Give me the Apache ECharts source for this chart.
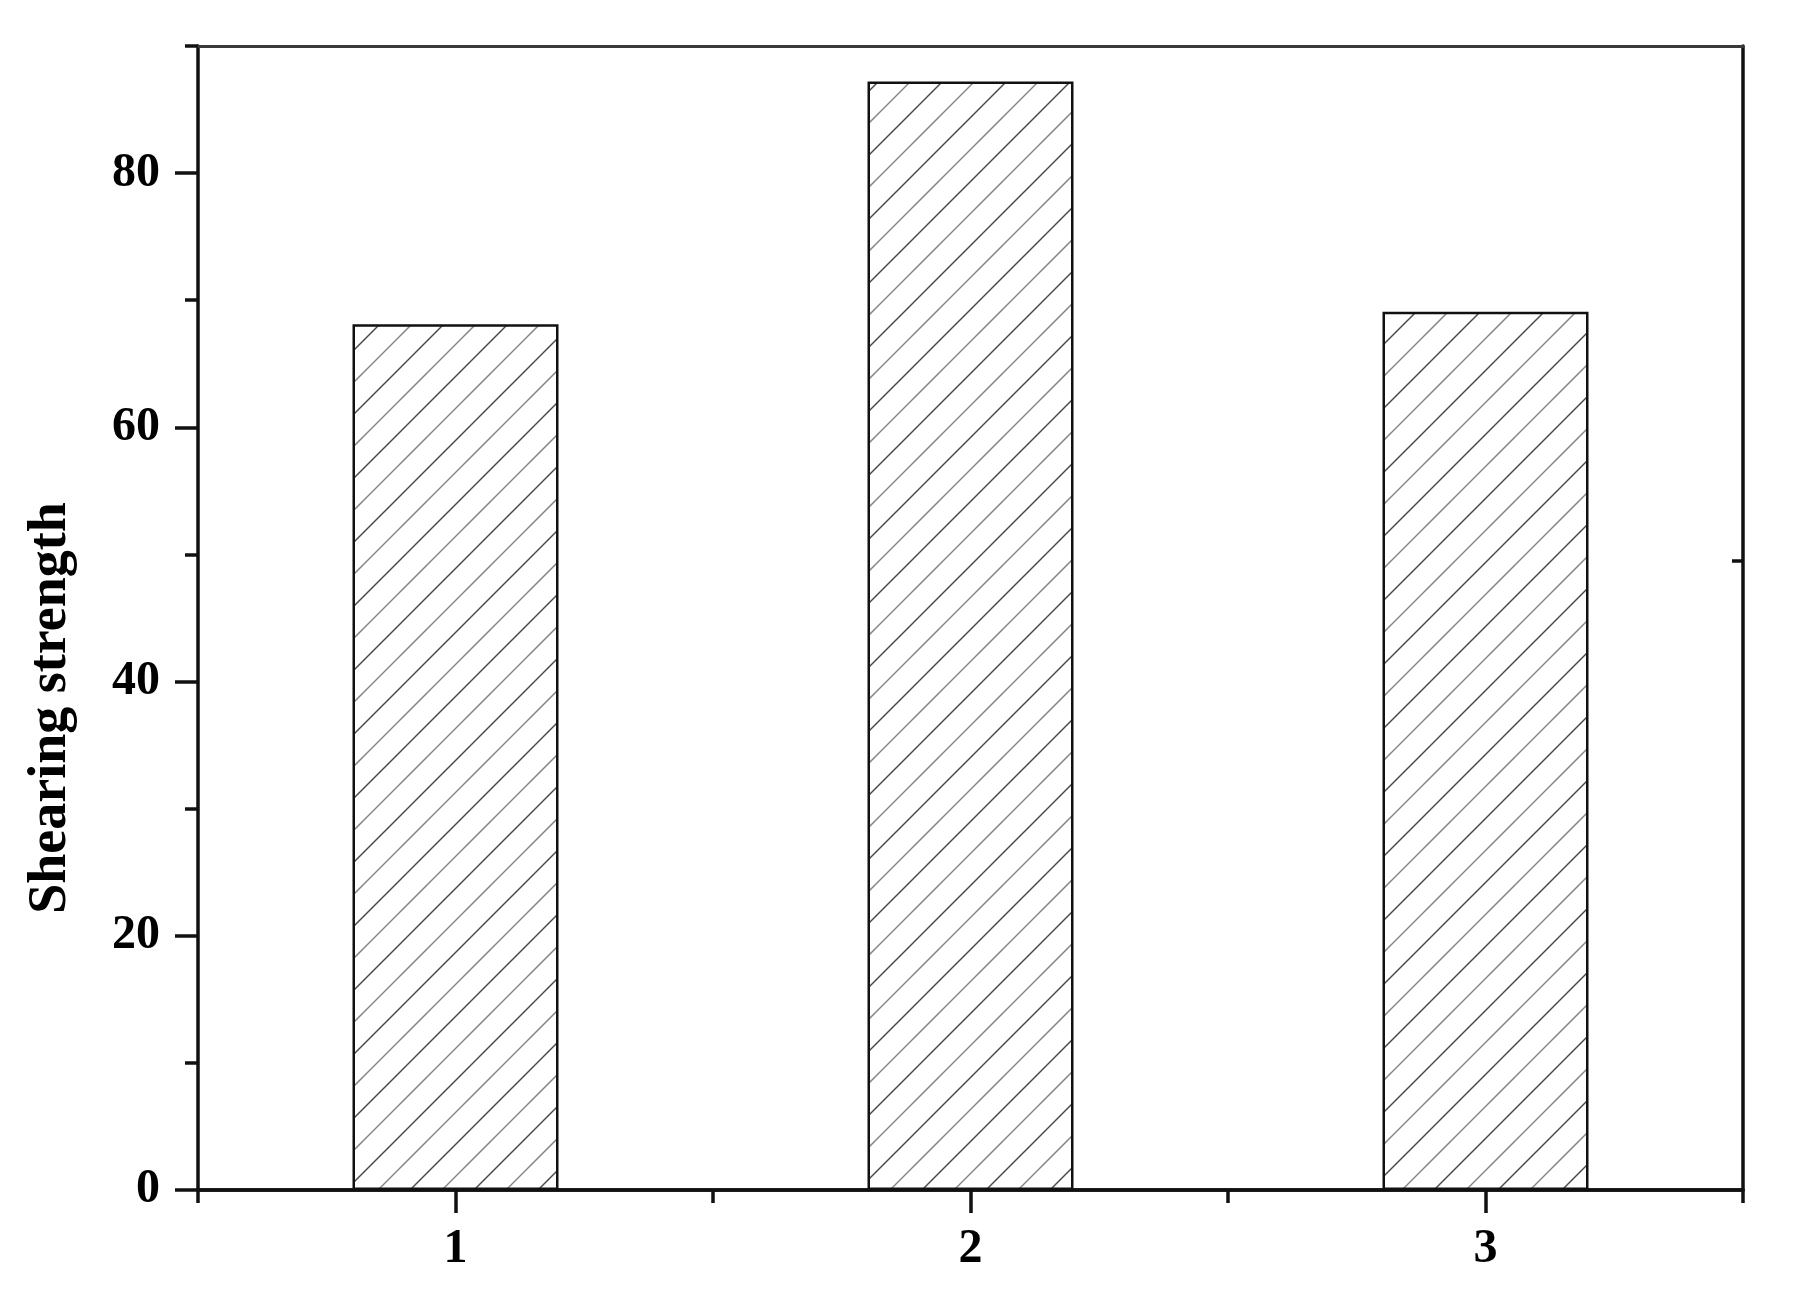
<!DOCTYPE html>
<html>
<head>
<meta charset="utf-8">
<title>Shearing strength</title>
<script src="https://cdn.jsdelivr.net/npm/echarts@6/dist/echarts.min.js"></script>
<style>
  html, body { margin: 0; padding: 0; background: #fff; }
  #chart { width: 1798px; height: 1290px; }
</style>
</head>
<body>
<div id="chart"></div>
<script>
// data
var categories = ['1', '2', '3']
var strength = [68.1, 87.2, 69.1]
var yMajorTicks = [0, 20, 40, 60, 80]
var yMinorTicks = [10, 30, 50, 70, 90]
var rightTicks = [49.5]

// diagonal hatch for the bars
function hatch() {
  var c = document.createElement('canvas')
  c.width = 64
  c.height = 64
  var ctx = c.getContext('2d')
  ctx.lineWidth = 1.5
  var lines = [[0, '#4a4a4a'], [32, '#858585']]
  lines.forEach(function (l) {
    ctx.strokeStyle = l[1]
    for (var k = -1; k <= 1; k++) {
      var off = l[0] + k * 64
      ctx.beginPath()
      ctx.moveTo(off - 2, 66)
      ctx.lineTo(off + 66, -2)
      ctx.stroke()
    }
  })
  return c
}

var font = 'Liberation Serif'
var axisColor = '#111111'
var lineW = 3.5

var chart = echarts.init(document.getElementById('chart'), null, { renderer: 'canvas' })
chart.setOption({
  backgroundColor: '#ffffff',
  animation: false,
  grid: {
    left: 198,
    right: 55,
    top: 46,
    bottom: 100
  },
  xAxis: [{
    type: 'category',
    data: categories,
    position: 'bottom',
    axisLine: {
      show: true,
      onZero: false,
      lineStyle: { color: axisColor, width: lineW }
    },
    axisTick: {
      show: true,
      alignWithLabel: true,
      length: 23,
      lineStyle: { color: axisColor, width: lineW }
    },
    axisLabel: {
      margin: 36,
      color: '#000',
      fontFamily: font,
      fontWeight: 'bold',
      fontSize: 48
    },
    splitLine: { show: false }
  }, {
    // boundary ticks at 0.5, 1.5, 2.5, 3.5
    type: 'category',
    data: categories,
    position: 'bottom',
    axisLine: {
      show: true,
      onZero: false,
      lineStyle: { color: axisColor, width: lineW }
    },
    axisTick: {
      show: true,
      alignWithLabel: false,
      length: 13,
      lineStyle: { color: axisColor, width: lineW }
    },
    axisLabel: { show: false },
    splitLine: { show: false }
  }, {
    type: 'category',
    data: categories,
    position: 'top',
    axisLine: {
      show: true,
      onZero: false,
      lineStyle: { color: '#3a3a3a', width: 3 }
    },
    axisTick: { show: false },
    axisLabel: { show: false },
    splitLine: { show: false }
  }],
  yAxis: [{
    type: 'value',
    min: 0,
    max: 90,
    interval: 10,
    position: 'left',
    name: 'Shearing strength',
    nameLocation: 'middle',
    nameRotate: 90,
    nameGap: 120,
    nameTextStyle: {
      color: '#000',
      fontFamily: font,
      fontWeight: 'bold',
      fontSize: 54,
      padding: [0, 180, 0, 0]
    },
    axisLine: {
      show: true,
      onZero: false,
      lineStyle: { color: axisColor, width: lineW }
    },
    axisTick: {
      show: true,
      length: 13,
      customValues: yMinorTicks,
      lineStyle: { color: axisColor, width: lineW }
    },
    axisLabel: { show: false },
    splitLine: { show: false }
  }, {
    type: 'value',
    min: 0,
    max: 90,
    interval: 10,
    position: 'left',
    axisLine: { show: false, onZero: false },
    axisTick: {
      show: true,
      length: 23,
      customValues: yMajorTicks,
      lineStyle: { color: axisColor, width: lineW }
    },
    axisLabel: {
      customValues: yMajorTicks,
      margin: 38,
      color: '#000',
      fontFamily: font,
      fontWeight: 'bold',
      fontSize: 48
    },
    splitLine: { show: false }
  }, {
    type: 'value',
    min: 0,
    max: 90,
    interval: 10,
    position: 'right',
    axisLine: {
      show: true,
      onZero: false,
      lineStyle: { color: axisColor, width: lineW }
    },
    axisTick: {
      show: true,
      inside: true,
      length: 11,
      customValues: rightTicks,
      lineStyle: { color: axisColor, width: lineW }
    },
    axisLabel: { show: false },
    splitLine: { show: false }
  }],
  series: [{
    type: 'bar',
    xAxisIndex: 0,
    yAxisIndex: 0,
    data: strength,
    barWidth: '40%',
    itemStyle: {
      color: { image: hatch(), repeat: 'repeat' },
      borderColor: '#111111',
      borderWidth: 2.5
    }
  }]
})
</script>
</body>
</html>
